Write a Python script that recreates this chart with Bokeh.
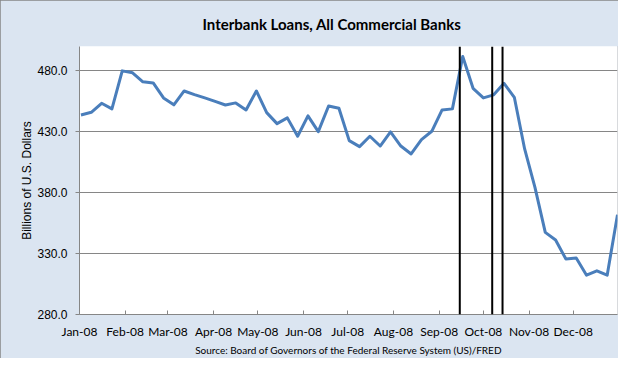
from datetime import datetime, timedelta
from bokeh.plotting import figure
from bokeh.models import (Range1d, FixedTicker, NumeralTickFormatter, DatetimeTickFormatter,
                          Span, Title)
from bokeh.embed import file_html
from bokeh.resources import INLINE

# ---- data (weekly, Wednesdays of 2008), billions of U.S. dollars ----
first_week = "2008-01-02"
weeks = 53
loans = [443.8, 446.0, 453.4, 448.8, 480.0, 478.4, 471.0, 470.1, 457.8, 452.1,
         463.5, 460.5, 457.8, 455.0, 452.0, 453.7, 447.9, 463.5, 445.7, 436.7,
         441.4, 426.3, 443.0, 430.1, 451.2, 449.3, 422.7, 417.8, 426.3, 418.3,
         429.9, 418.3, 411.8, 423.5, 430.4, 447.9, 448.8, 491.8, 465.7, 457.8,
         460.3, 469.8, 458.3, 415.9, 384.4, 347.4, 341.1, 325.5, 326.3, 312.3,
         315.9, 312.3, 361.9]
event_dates = ["2008-09-15", "2008-10-07", "2008-10-14"]
y_ticks = [280, 330, 380, 430, 480]
month_ticks = ["2008-%02d-01" % m for m in range(1, 13)]

title_text = "Interbank Loans, All Commercial Banks"
y_label = "Billions of U.S. Dollars"
source_text = "Source: Board of Governors of the Federal Reserve System (US)/FRED"

def ms(d):
    return (d - datetime(1970, 1, 1)).total_seconds() * 1000.0

start = datetime.strptime(first_week, "%Y-%m-%d")
dates = [start + timedelta(days=7 * i) for i in range(weeks)]

BG = "#DBE5F1"
GRID = "#868686"

p = figure(width=618, height=358, x_axis_type="datetime",
           x_range=Range1d(datetime(2008, 1, 1), datetime(2008, 12, 31)),
           y_range=Range1d(280, 500),
           output_backend="svg", toolbar_location=None,
           min_border_left=79, min_border_right=1, min_border_top=46, min_border_bottom=44)
p.background_fill_color = "white"
p.border_fill_color = BG
p.outline_line_color = None
p.styles = {"outline": "1px solid #868686", "outline-offset": "-1px"}

p.title.text = title_text
p.title.align = "left"
p.title.offset = 123
p.title.text_font = "Lato"
p.title.text_font_style = "bold"
p.title.text_font_size = "15px"
p.title.text_color = "black"
p.title.vertical_align = "top"
p.title.standoff = 24

p.add_layout(Title(text=source_text, align="center", text_font="Lato",
                   text_font_size="10px", text_font_style="normal",
                   text_color="black", standoff=0), "below")

p.xgrid.grid_line_color = None
p.ygrid.grid_line_color = GRID
p.ygrid.grid_line_width = 1
p.ygrid.ticker = FixedTicker(ticks=y_ticks)

p.yaxis.ticker = FixedTicker(ticks=y_ticks)
p.yaxis.formatter = NumeralTickFormatter(format="0.0")
p.yaxis.major_tick_out = 4
p.yaxis.major_tick_in = 0
p.yaxis.minor_tick_line_color = None
p.yaxis.axis_line_color = GRID
p.yaxis.major_tick_line_color = GRID
p.yaxis.major_label_text_font = "Liberation Sans"
p.yaxis.major_label_text_font_size = "12px"
p.yaxis.major_label_text_color = "black"
p.yaxis.major_label_standoff = 8
p.yaxis.axis_label = y_label
p.yaxis.axis_label_text_font = "Liberation Sans"
p.yaxis.axis_label_text_font_size = "12px"
p.yaxis.axis_label_text_font_style = "normal"
p.yaxis.axis_label_text_color = "black"
p.yaxis.axis_label_standoff = 0

p.xaxis.ticker = FixedTicker(ticks=[ms(datetime.strptime(d, "%Y-%m-%d")) for d in month_ticks])
p.xaxis.formatter = DatetimeTickFormatter(days="%b-%y", months="%b-%y", years="%b-%y",
                                          hours="%b-%y")
p.xaxis.major_tick_out = 0
p.xaxis.major_tick_in = 4
p.xaxis.minor_tick_line_color = None
p.xaxis.axis_line_color = GRID
p.xaxis.major_tick_line_color = GRID
p.xaxis.major_label_text_font = "Lato"
p.xaxis.major_label_text_font_size = "12px"
p.xaxis.major_label_text_color = "black"
p.xaxis.major_label_standoff = 9

p.line(dates, loans, line_color="#4A7EBB", line_width=3, line_join="round")

for d in event_dates:
    p.add_layout(Span(location=ms(datetime.strptime(d, "%Y-%m-%d")), dimension="height",
                      line_color="black", line_width=2))

open("out.html", "w").write(file_html(p, INLINE))
